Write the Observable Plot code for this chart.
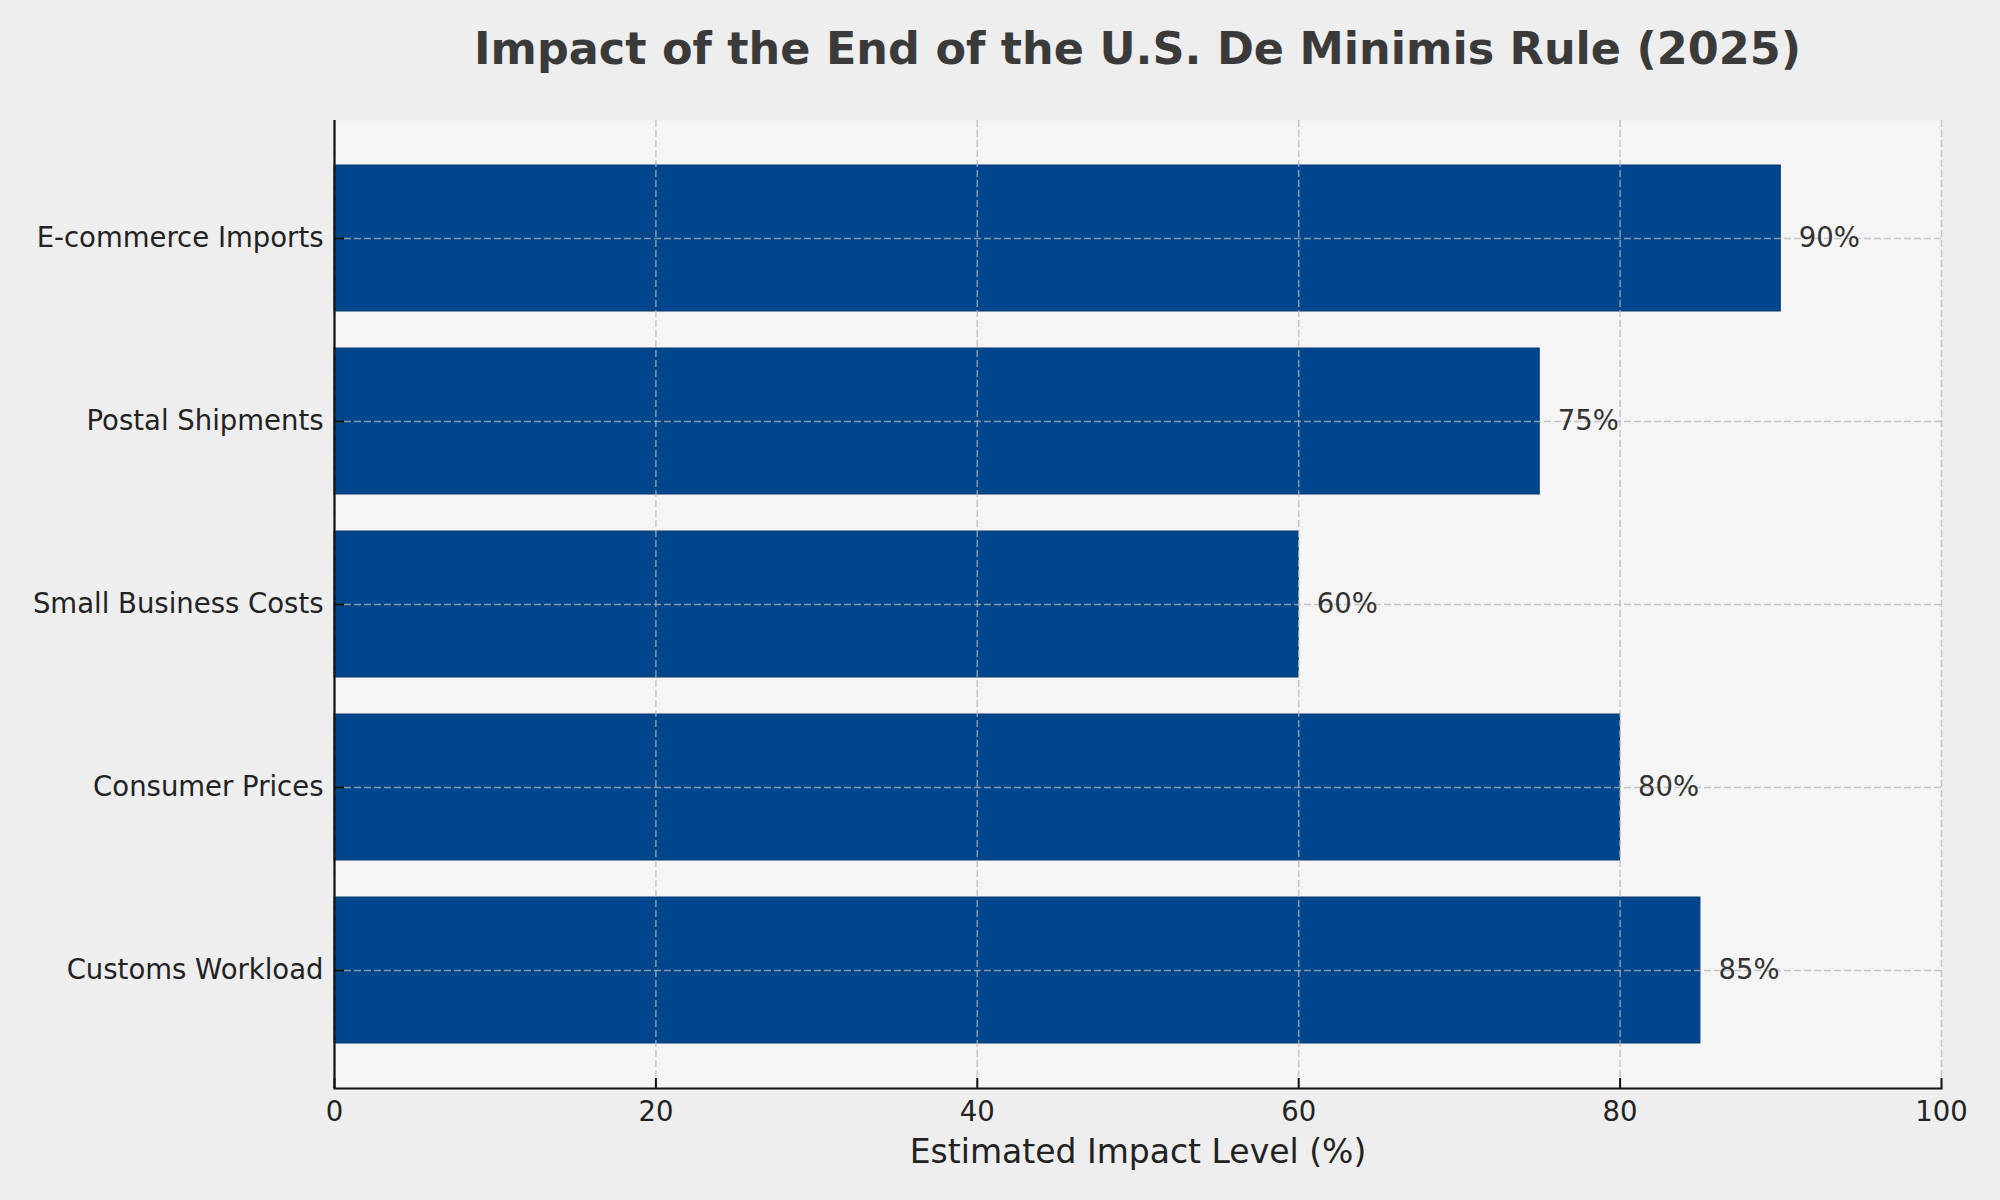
<!DOCTYPE html>
<html>
<head>
<meta charset="utf-8">
<script src="https://cdn.jsdelivr.net/npm/d3@7"></script>
<script src="https://cdn.jsdelivr.net/npm/@observablehq/plot@0.6"></script>
<style>
  html, body { margin: 0; padding: 0; background: #eeeeee; }
  body { width: 2000px; height: 1200px; overflow: hidden; font-family: "DejaVu Sans", sans-serif; }
  #title {
    box-sizing: border-box; width: 2000px; height: 80px;
    padding: 27px 59px 0 334px; text-align: center;
    font-size: 44.5px; line-height: 44px; font-weight: bold; color: #3a3a3a;
    white-space: nowrap;
  }
</style>
</head>
<body>
<div id="title">Impact of the End of the U.S. De Minimis Rule (2025)</div>
<div id="chart"></div>
<script>
const categories = ["E-commerce Imports", "Postal Shipments", "Small Business Costs", "Consumer Prices", "Customs Workload"];
const values = [90, 75, 60, 80, 85];
const xTicks = [0, 20, 40, 60, 80, 100];
const xLabel = "Estimated Impact Level (%)";

const data = categories.map((c, i) => ({category: c, value: values[i]}));

const gridStyle = {stroke: "#b4b4b4", strokeOpacity: 0.75, strokeWidth: 1.5, strokeDasharray: "7,3"};

const plot = Plot.plot({
  width: 2000,
  height: 1120,
  marginTop: 40,
  marginBottom: 112,
  marginLeft: 334,
  marginRight: 59,
  style: {fontFamily: "DejaVu Sans, sans-serif", background: "transparent", color: "#222"},
  x: {domain: [0, 100], ticks: xTicks},
  y: {domain: categories, paddingInner: 0.2, paddingOuter: 0.24},
  marks: [
    Plot.frame({fill: "#f5f5f5", stroke: "none"}),
    Plot.barX(data, {x: "value", y: "category", fill: "#00468c", stroke: "#0d3a6e", strokeWidth: 1}),
    Plot.gridX(xTicks, gridStyle),
    Plot.gridY(categories, gridStyle),
    Plot.text(data, {x: "value", y: "category", text: d => d.value + "%", textAnchor: "start", dx: 18, fontSize: 27.5, fill: "#333"}),
    Plot.ruleX([0], {stroke: "#111", strokeWidth: 2.2}),
    Plot.frame({anchor: "bottom", stroke: "#111", strokeWidth: 2.2}),
    Plot.axisX(xTicks, {tickSize: 10, insetBottom: 10, fill: "none", stroke: "#111", strokeWidth: 2, label: null}),
    Plot.axisX(xTicks, {tickSize: 0, tickPadding: 13, fontSize: 27.5, fill: "#222", label: null}),
    Plot.axisY(categories, {tickSize: 10, insetLeft: 10, fill: "none", stroke: "#111", strokeWidth: 2, label: null}),
    Plot.axisY(categories, {tickSize: 0, tickPadding: 11, fontSize: 27.5, fill: "#222", label: null}),
    Plot.text([xLabel], {frameAnchor: "bottom", dy: 64, lineAnchor: "middle", fontSize: 33, fill: "#222"})
  ]
});
document.getElementById("chart").appendChild(plot);
</script>
</body>
</html>
